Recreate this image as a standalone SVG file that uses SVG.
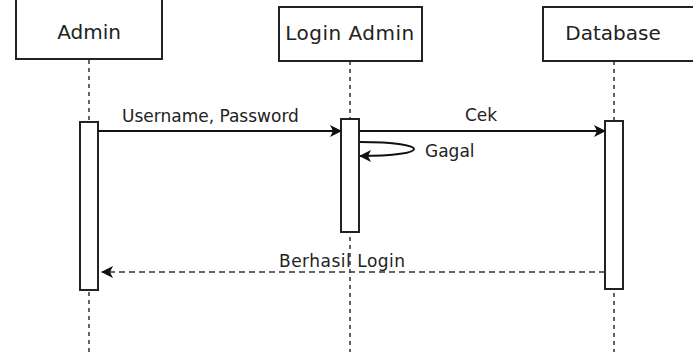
<svg xmlns="http://www.w3.org/2000/svg" width="693" height="352" viewBox="0 0 693 352">
<defs>
<style>
.box{fill:#fff;stroke:#222;stroke-width:2}
.act{fill:#fff;stroke:#222;stroke-width:2}
.life{stroke:#333;stroke-width:1.5;stroke-dasharray:4 4;fill:none}
.msg{stroke:#111;stroke-width:2;fill:none}
.ret{stroke:#333;stroke-width:1.5;stroke-dasharray:6 4;fill:none}
.hd{font-family:"DejaVu Sans",Verdana,sans-serif;font-size:20px;fill:#222;text-anchor:middle}
.lb{font-family:"DejaVu Sans",Verdana,sans-serif;font-size:17px;fill:#222}
</style>
<marker id="ah" viewBox="0 0 12 12" refX="11" refY="6" markerWidth="12" markerHeight="12" markerUnits="userSpaceOnUse" orient="auto">
<path d="M0,0 L12,6 L0,12 L3,6 Z" fill="#111"/>
</marker>
</defs>
<rect width="693" height="352" fill="#fff"/>
<g id="lifelines">
<line class="life" x1="89" y1="60" x2="89" y2="352"/>
<line class="life" x1="350" y1="61" x2="350" y2="352"/>
<line class="life" x1="614" y1="61" x2="614" y2="352"/>
</g>
<g id="admin">
<path class="box" d="M16,0 V59 H162 V0"/>
<text class="hd" x="89" y="39">Admin</text>
<rect class="act" x="80" y="122" width="18" height="168"/>
</g>
<g id="login-admin">
<rect class="box" x="279" y="7" width="143" height="54"/>
<text class="hd" x="350" y="40" letter-spacing="0.5">Login Admin</text>
<rect class="act" x="341" y="119" width="18" height="113"/>
</g>
<g id="database">
<rect class="box" x="543" y="7" width="160" height="54"/>
<text class="hd" x="613" y="40">Database</text>
<rect class="act" x="605" y="121" width="18" height="168"/>
</g>
<g id="connectors">
<line class="msg" x1="98" y1="131" x2="341" y2="131" marker-end="url(#ah)"/>
<text class="lb" x="122" y="122">Username, Password</text>
<line class="msg" x1="359" y1="131" x2="605" y2="131" marker-end="url(#ah)"/>
<text class="lb" x="465" y="121">Cek</text>
<path class="msg" d="M360,142 C432,142 432,156 360,156" marker-end="url(#ah)"/>
<text class="lb" x="425" y="157">Gagal</text>
<line class="ret" x1="605" y1="272" x2="102" y2="272" marker-end="url(#ah)"/>
<text class="lb" x="279" y="267" letter-spacing="0.5">Berhasil Login</text>
</g>
</svg>
